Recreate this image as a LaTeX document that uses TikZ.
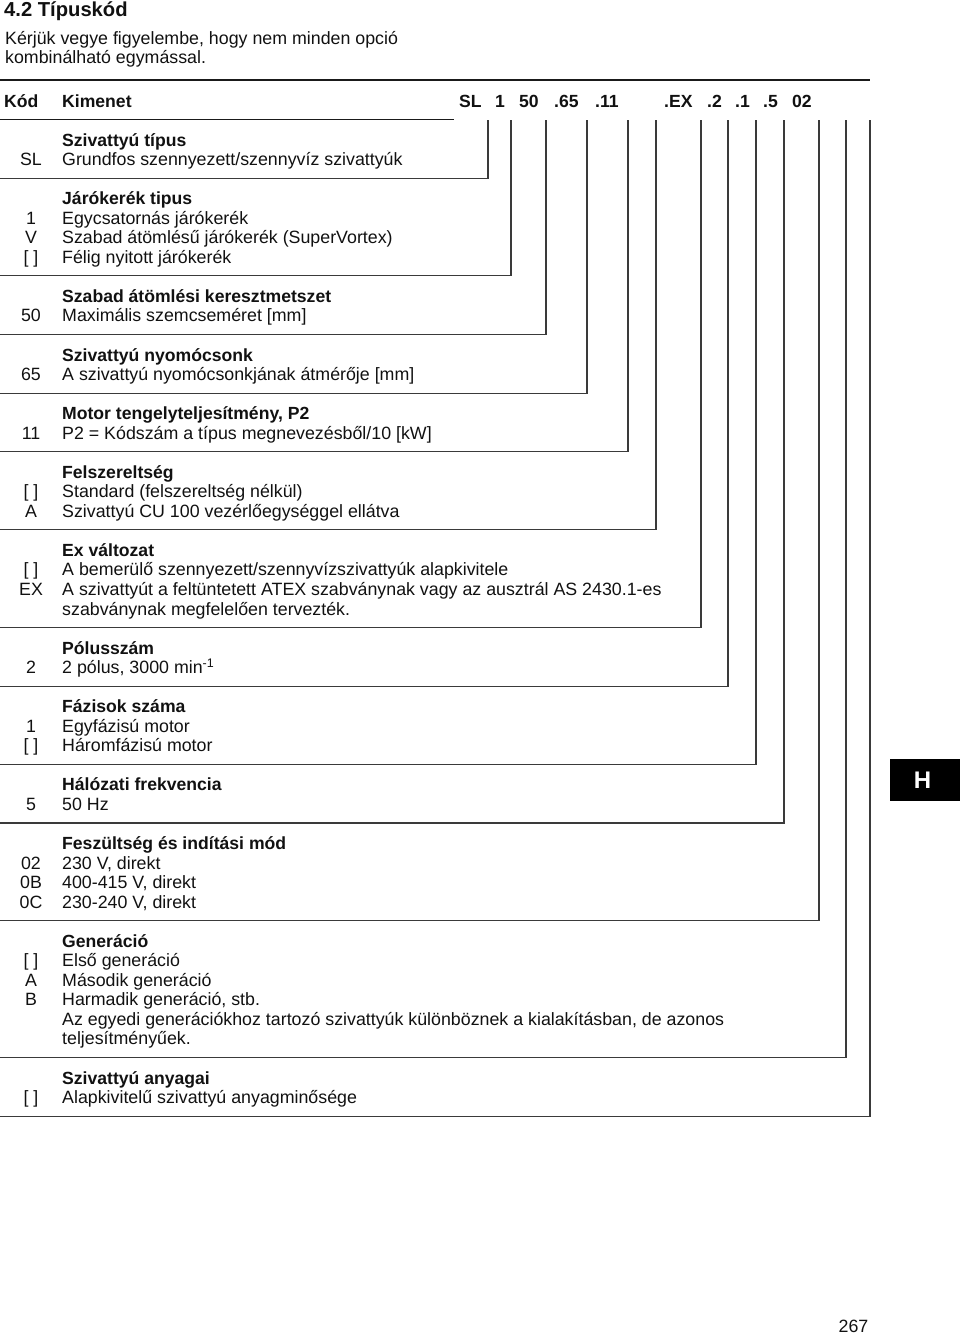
\documentclass[tikz,border=0pt]{standalone}
\usepackage{fontspec}
\setmainfont{Liberation Sans}
\definecolor{rulec}{HTML}{1a1a1a}
\definecolor{wirec}{HTML}{3a3a3a}
\definecolor{txt}{HTML}{111111}
% baseline of text row #1, and height of the closing line of row #1
\newcommand{\rb}[1]{107+19.54*#1}
\newcommand{\rl}[1]{100+19.54*#1}
\tikzset{
  desc/.style={anchor=base west, text=txt, font=\fontsize{17.8}{19.5}\selectfont},
  sect/.style={desc, font=\fontsize{17.6}{19.5}\selectfont\bfseries},
  opt/.style={anchor=base, text=txt, font=\fontsize{17.8}{19.5}\selectfont},
  hdcode/.style={sect},
  wire/.style={wirec, line width=1.1pt},
}

\begin{document}
\begin{tikzpicture}[x=1pt, y=-1pt, every node/.style={inner sep=0pt}]

\useasboundingbox (0,0) rectangle (960,1336);

% heading and note
\node[anchor=base west, text=txt, font=\fontsize{20.2}{22}\selectfont\bfseries]
  (title) at (4,16.7) {4.2 Típuskód};
\node[desc] (note1) at (5,44) {Kérjük vegye figyelembe, hogy nem minden opció};
\node[desc] (note2) at (5,63) {kombinálható egymással.};

% table rules
\draw[rulec, line width=2.6pt] (0,80) -- (870,80);
\draw[rulec, line width=1.5pt] (0,119.5) -- (454,119.5);

% header row
\node[sect] (hkod) at (4,{\rb{0}}) {Kód};
\node[sect] (hkim) at (62,{\rb{0}}) {Kimenet};
\foreach \xx/\cc [count=\i] in {459/SL, 495/1, 519/50, 554/.65, 595/.11,
    664/.EX, 707/.2, 735/.1, 763/.5, 792/02}
  \node[hdcode] (h\i) at (\xx,{\rb{0}}) {\cc};

% one bracket per code position: down from the header, then back left
\foreach \xx/\rr in {488/4, 511/9, 546/12, 587/15, 628/18, 656/22, 701/27,
    728/30, 756/34, 784/37, 819/42, 846/49, 870/52}
  \draw[wire] (\xx,120) |- (0,{\rl{\rr}});

% Szivattyú típus
\node[sect] (t1) at (62,{\rb{2}}) {Szivattyú típus};
\node[opt]  (c1a) at (31,{\rb{3}}) {SL};
\node[desc] (d1a) at (62,{\rb{3}}) {Grundfos szennyezett/szennyvíz szivattyúk};

% Járókerék
\node[sect] (t2) at (62,{\rb{5}}) {Járókerék tipus};
\node[opt]  (c2a) at (31,{\rb{6}}) {1};
\node[desc] (d2a) at (62,{\rb{6}}) {Egycsatornás járókerék};
\node[opt]  (c2b) at (31,{\rb{7}}) {V};
\node[desc] (d2b) at (62,{\rb{7}}) {Szabad átömlésű járókerék (SuperVortex)};
\node[opt]  (c2c) at (31,{\rb{8}}) {[ ]};
\node[desc] (d2c) at (62,{\rb{8}}) {Félig nyitott járókerék};

% Szabad átömlés
\node[sect] (t3) at (62,{\rb{10}}) {Szabad átömlési keresztmetszet};
\node[opt]  (c3a) at (31,{\rb{11}}) {50};
\node[desc] (d3a) at (62,{\rb{11}}) {Maximális szemcseméret [mm]};

% Nyomócsonk
\node[sect] (t4) at (62,{\rb{13}}) {Szivattyú nyomócsonk};
\node[opt]  (c4a) at (31,{\rb{14}}) {65};
\node[desc] (d4a) at (62,{\rb{14}}) {A szivattyú nyomócsonkjának átmérője [mm]};

% Teljesítmény
\node[sect] (t5) at (62,{\rb{16}}) {Motor tengelyteljesítmény, P2};
\node[opt]  (c5a) at (31,{\rb{17}}) {11};
\node[desc] (d5a) at (62,{\rb{17}}) {P2 = Kódszám a típus megnevezésből/10 [kW]};

% Felszereltség
\node[sect] (t6) at (62,{\rb{19}}) {Felszereltség};
\node[opt]  (c6a) at (31,{\rb{20}}) {[ ]};
\node[desc] (d6a) at (62,{\rb{20}}) {Standard (felszereltség nélkül)};
\node[opt]  (c6b) at (31,{\rb{21}}) {A};
\node[desc] (d6b) at (62,{\rb{21}}) {Szivattyú CU 100 vezérlőegységgel ellátva};

% Ex változat
\node[sect] (t7) at (62,{\rb{23}}) {Ex változat};
\node[opt]  (c7a) at (31,{\rb{24}}) {[ ]};
\node[desc] (d7a) at (62,{\rb{24}}) {A bemerülő szennyezett/szennyvízszivattyúk alapkivitele};
\node[opt]  (c7b) at (31,{\rb{25}}) {EX};
\node[desc] (d7b) at (62,{\rb{25}}) {A szivattyút a feltüntetett ATEX szabványnak vagy az ausztrál AS 2430.1-es};
\node[desc] (d7c) at (62,{\rb{26}}) {szabványnak megfelelően tervezték.};

% Pólusszám
\node[sect] (t8) at (62,{\rb{28}}) {Pólusszám};
\node[opt]  (c8a) at (31,{\rb{29}}) {2};
\node[desc] (d8a) at (62,{\rb{29}}) {2 pólus, 3000 min\textsuperscript{-1}};

% Fázisok
\node[sect] (t9) at (62,{\rb{31}}) {Fázisok száma};
\node[opt]  (c9a) at (31,{\rb{32}}) {1};
\node[desc] (d9a) at (62,{\rb{32}}) {Egyfázisú motor};
\node[opt]  (c9b) at (31,{\rb{33}}) {[ ]};
\node[desc] (d9b) at (62,{\rb{33}}) {Háromfázisú motor};

% Frekvencia
\node[sect] (t10) at (62,{\rb{35}}) {Hálózati frekvencia};
\node[opt]  (c10a) at (31,{\rb{36}}) {5};
\node[desc] (d10a) at (62,{\rb{36}}) {50 Hz};

% Feszültség
\node[sect] (t11) at (62,{\rb{38}}) {Feszültség és indítási mód};
\node[opt]  (c11a) at (31,{\rb{39}}) {02};
\node[desc] (d11a) at (62,{\rb{39}}) {230 V, direkt};
\node[opt]  (c11b) at (31,{\rb{40}}) {0B};
\node[desc] (d11b) at (62,{\rb{40}}) {400-415 V, direkt};
\node[opt]  (c11c) at (31,{\rb{41}}) {0C};
\node[desc] (d11c) at (62,{\rb{41}}) {230-240 V, direkt};

% Generáció
\node[sect] (t12) at (62,{\rb{43}}) {Generáció};
\node[opt]  (c12a) at (31,{\rb{44}}) {[ ]};
\node[desc] (d12a) at (62,{\rb{44}}) {Első generáció};
\node[opt]  (c12b) at (31,{\rb{45}}) {A};
\node[desc] (d12b) at (62,{\rb{45}}) {Második generáció};
\node[opt]  (c12c) at (31,{\rb{46}}) {B};
\node[desc] (d12c) at (62,{\rb{46}}) {Harmadik generáció, stb.};
\node[desc] (d12d) at (62,{\rb{47}}) {Az egyedi generációkhoz tartozó szivattyúk különböznek a kialakításban, de azonos};
\node[desc] (d12e) at (62,{\rb{48}}) {teljesítményűek.};

% Anyag
\node[sect] (t13) at (62,{\rb{50}}) {Szivattyú anyagai};
\node[opt]  (c13a) at (31,{\rb{51}}) {[ ]};
\node[desc] (d13a) at (62,{\rb{51}}) {Alapkivitelű szivattyú anyagminősége};

% chapter tab
\fill[black] (890,759) rectangle (960,801);
\node[text=white, font=\fontsize{24}{24}\selectfont\bfseries] (tab) at (922.5,780.5) {H};

% page number
\node[opt] (page) at (853.5,1332.5) {267};

\end{tikzpicture}
\end{document}
